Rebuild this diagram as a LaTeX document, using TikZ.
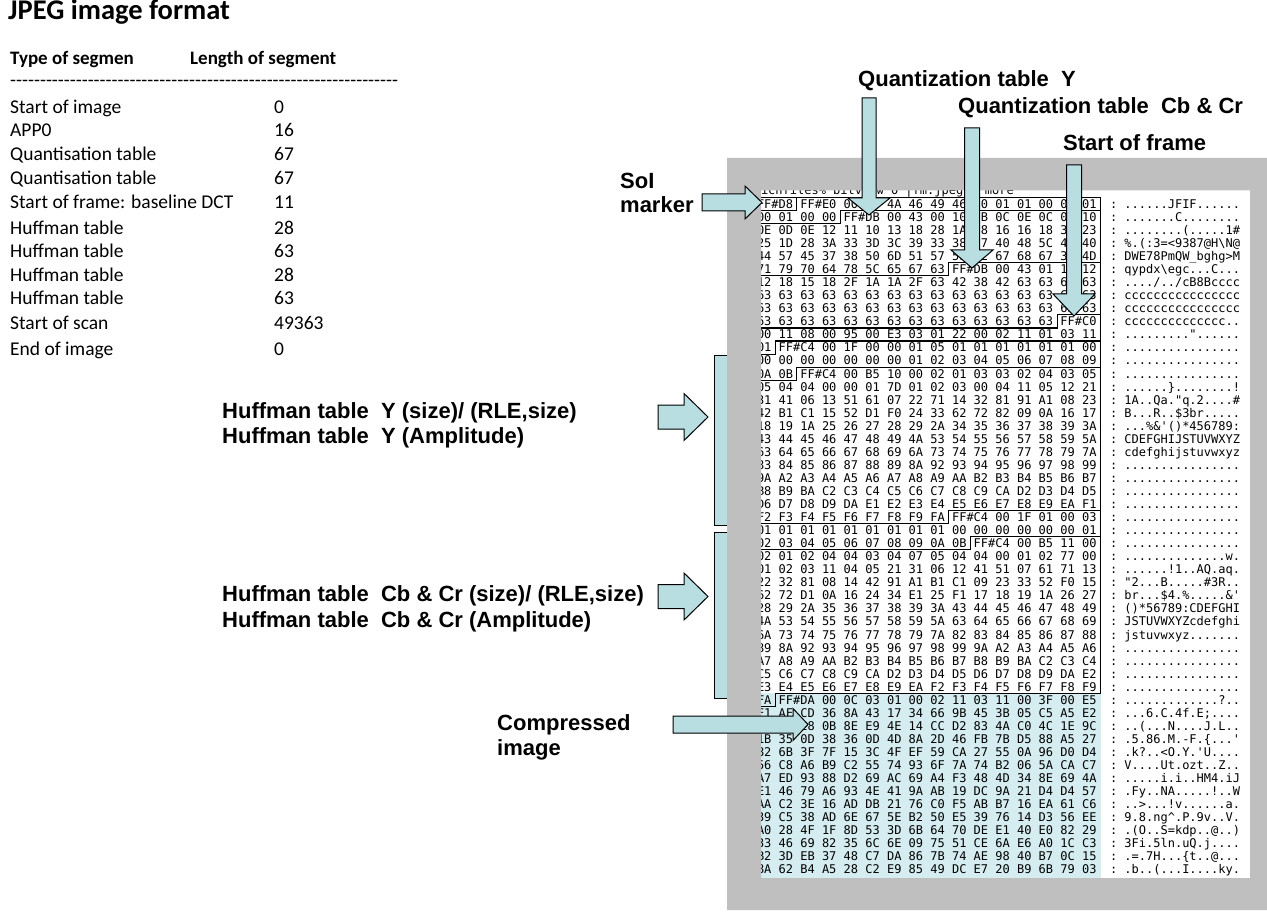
\documentclass[tikz,border=0pt]{standalone}
\usepackage{fontspec}
\setmainfont{Carlito}
\newfontfamily\labfont{Liberation Sans}
\newfontfamily\hexfnt{DejaVu Sans Mono}
\definecolor{arrowfill}{RGB}{184,222,226}
\definecolor{comprfill}{RGB}{213,237,240}
\definecolor{framegray}{RGB}{191,191,191}
\tikzset{
  hexnode/.style={anchor=base west, inner sep=0pt, outer sep=0pt, font=\hexfnt\fontsize{12}{12}\selectfont},
  segline/.style={draw=black, line width=1.1pt, line join=miter},
  arrowstyle/.style={fill=arrowfill, draw=black, line width=1pt, line join=miter},
  lab/.style={anchor=base west, inner sep=0pt, font=\labfont\bfseries\fontsize{22}{26}\selectfont},
  tabtext/.style={anchor=base west, inner sep=0pt, font=\fontsize{19.5}{22}\selectfont},
  tabhead/.style={anchor=base west, inner sep=0pt, font=\bfseries\fontsize{19}{22}\selectfont}
}
\newcommand{\hexrow}[3]{%
  \node[hexnode] (h#1) at (757,{204+(#1-1)*13.05+4.37}) {#2};
  \node[hexnode] (a#1) at (1110,{204+(#1-1)*13.05+4.37}) {:\ #3};
}
\newcommand{\segdiv}[2]{%
  \draw[segline] (740,{204+(#1-1)*13.05+6.525}) -- ({753.4+21.7*#2},{204+(#1-1)*13.05+6.525})
    -- ({753.4+21.7*#2},{204+(#1-1)*13.05-6.525}) -- (1100.6,{204+(#1-1)*13.05-6.525});
}
% cx, ytop, ybase, ytip, shaft half, head half
\newcommand{\downblock}[6]{%
  \filldraw[arrowstyle] ({#1-#5},#2) -- ({#1+#5},#2) -- ({#1+#5},#3) -- ({#1+#6},#3) -- (#1,#4)
    -- ({#1-#6},#3) -- ({#1-#5},#3) -- cycle;
}
% xleft, yc, xbase, xtip, shaft half, head half
\newcommand{\rightblock}[6]{%
  \filldraw[arrowstyle] (#1,{#2-#5}) -- (#3,{#2-#5}) -- (#3,{#2-#6}) -- (#4,#2) -- (#3,{#2+#6})
    -- (#3,{#2+#5}) -- (#1,{#2+#5}) -- cycle;
}
\newcommand{\tenhy}{-{}-{}-{}-{}-{}-{}-{}-{}-{}-{}}
\begin{document}
\begin{tikzpicture}[x=1pt,y=-1pt]
\useasboundingbox (0,0) rectangle (1267,912);
\fill[white] (0,0) rectangle (1267,912);

% ---------------- left table ----------------
\node[anchor=base west, inner sep=0pt, font=\bfseries\fontsize{28.5}{30}\selectfont] (title) at (8,19.5) {JPEG image format};
\node[tabhead] (hd1) at (10,65) {Type of segmen};
\node[tabhead] (hd2) at (190,65) {Length of segment};
\node[tabtext] (dash) at (10,86.5) {\tenhy\tenhy\tenhy\tenhy\tenhy\tenhy-{}-{}-{}-{}-{}};
\node[tabtext] (r1) at (10,113.3) {Start of image};            \node[tabtext] (v1) at (274,113.3) {0};
\node[tabtext] (r2) at (10,136.7) {APP0};                      \node[tabtext] (v2) at (274,136.7) {16};
\node[tabtext] (r3) at (10,160.7) {Quantisation table};        \node[tabtext] (v3) at (274,160.7) {67};
\node[tabtext] (r4) at (10,184.3) {Quantisation table};        \node[tabtext] (v4) at (274,184.3) {67};
\node[tabtext] (r5) at (10,208.3) {Start of frame: baseline DCT}; \node[tabtext] (v5) at (274,208.3) {11};
\node[tabtext] (r6) at (10,234.3) {Huffman table};             \node[tabtext] (v6) at (274,234.3) {28};
\node[tabtext] (r7) at (10,257.3) {Huffman table};             \node[tabtext] (v7) at (274,257.3) {63};
\node[tabtext] (r8) at (10,281.7) {Huffman table};             \node[tabtext] (v8) at (274,281.7) {28};
\node[tabtext] (r9) at (10,305) {Huffman table};               \node[tabtext] (v9) at (274,305) {63};
\node[tabtext] (r10) at (10,329.3) {Start of scan};            \node[tabtext] (v10) at (274,329.3) {49363};
\node[tabtext] (r11) at (10,355.3) {End of image};             \node[tabtext] (v11) at (274,355.3) {0};

% ---------------- compressed data background ----------------
\fill[comprfill] (745,693.4) rectangle (1100.6,880);

% ---------------- hex dump ----------------
\node[hexnode] (h0) at (761,194.3) {ichfiles\% bitview 0 |fm.jpeg | more};
\hexrow{1}{FF\#D8 FF\#E0 00 10 4A 46 49 46 00 01 01 00 00 01}{......JFIF......}
\hexrow{2}{00 01 00 00 FF\#DB 00 43 00 10 0B 0C 0E 0C 0A 10}{.......C........}
\hexrow{3}{0E 0D 0E 12 11 10 13 18 28 1A 18 16 16 18 31 23}{........(.....1\#}
\hexrow{4}{25 1D 28 3A 33 3D 3C 39 33 38 37 40 48 5C 4E 40}{\%.(:3=<9387@H\textbackslash N@}
\hexrow{5}{44 57 45 37 38 50 6D 51 57 5F 62 67 68 67 3E 4D}{DWE78PmQW\_bghg>M}
\hexrow{6}{71 79 70 64 78 5C 65 67 63 FF\#DB 00 43 01 11 12}{qypdx\textbackslash egc...C...}
\hexrow{7}{12 18 15 18 2F 1A 1A 2F 63 42 38 42 63 63 63 63}{..../../cB8Bcccc}
\hexrow{8}{63 63 63 63 63 63 63 63 63 63 63 63 63 63 63 63}{cccccccccccccccc}
\hexrow{9}{63 63 63 63 63 63 63 63 63 63 63 63 63 63 63 63}{cccccccccccccccc}
\hexrow{10}{63 63 63 63 63 63 63 63 63 63 63 63 63 63 FF\#C0}{cccccccccccccc..}
\hexrow{11}{00 11 08 00 95 00 E3 03 01 22 00 02 11 01 03 11}{........."......}
\hexrow{12}{01 FF\#C4 00 1F 00 00 01 05 01 01 01 01 01 01 00}{................}
\hexrow{13}{00 00 00 00 00 00 00 01 02 03 04 05 06 07 08 09}{................}
\hexrow{14}{0A 0B FF\#C4 00 B5 10 00 02 01 03 03 02 04 03 05}{................}
\hexrow{15}{05 04 04 00 00 01 7D 01 02 03 00 04 11 05 12 21}{......\}........!}
\hexrow{16}{31 41 06 13 51 61 07 22 71 14 32 81 91 A1 08 23}{1A..Qa."q.2....\#}
\hexrow{17}{42 B1 C1 15 52 D1 F0 24 33 62 72 82 09 0A 16 17}{B...R..\$3br.....}
\hexrow{18}{18 19 1A 25 26 27 28 29 2A 34 35 36 37 38 39 3A}{...\%\&'()*456789:}
\hexrow{19}{43 44 45 46 47 48 49 4A 53 54 55 56 57 58 59 5A}{CDEFGHIJSTUVWXYZ}
\hexrow{20}{63 64 65 66 67 68 69 6A 73 74 75 76 77 78 79 7A}{cdefghijstuvwxyz}
\hexrow{21}{83 84 85 86 87 88 89 8A 92 93 94 95 96 97 98 99}{................}
\hexrow{22}{9A A2 A3 A4 A5 A6 A7 A8 A9 AA B2 B3 B4 B5 B6 B7}{................}
\hexrow{23}{B8 B9 BA C2 C3 C4 C5 C6 C7 C8 C9 CA D2 D3 D4 D5}{................}
\hexrow{24}{D6 D7 D8 D9 DA E1 E2 E3 E4 E5 E6 E7 E8 E9 EA F1}{................}
\hexrow{25}{F2 F3 F4 F5 F6 F7 F8 F9 FA FF\#C4 00 1F 01 00 03}{................}
\hexrow{26}{01 01 01 01 01 01 01 01 01 00 00 00 00 00 00 01}{................}
\hexrow{27}{02 03 04 05 06 07 08 09 0A 0B FF\#C4 00 B5 11 00}{................}
\hexrow{28}{02 01 02 04 04 03 04 07 05 04 04 00 01 02 77 00}{..............w.}
\hexrow{29}{01 02 03 11 04 05 21 31 06 12 41 51 07 61 71 13}{......!1..AQ.aq.}
\hexrow{30}{22 32 81 08 14 42 91 A1 B1 C1 09 23 33 52 F0 15}{"2...B.....\#3R..}
\hexrow{31}{62 72 D1 0A 16 24 34 E1 25 F1 17 18 19 1A 26 27}{br...\$4.\%.....\&'}
\hexrow{32}{28 29 2A 35 36 37 38 39 3A 43 44 45 46 47 48 49}{()*56789:CDEFGHI}
\hexrow{33}{4A 53 54 55 56 57 58 59 5A 63 64 65 66 67 68 69}{JSTUVWXYZcdefghi}
\hexrow{34}{6A 73 74 75 76 77 78 79 7A 82 83 84 85 86 87 88}{jstuvwxyz.......}
\hexrow{35}{89 8A 92 93 94 95 96 97 98 99 9A A2 A3 A4 A5 A6}{................}
\hexrow{36}{A7 A8 A9 AA B2 B3 B4 B5 B6 B7 B8 B9 BA C2 C3 C4}{................}
\hexrow{37}{C5 C6 C7 C8 C9 CA D2 D3 D4 D5 D6 D7 D8 D9 DA E2}{................}
\hexrow{38}{E3 E4 E5 E6 E7 E8 E9 EA F2 F3 F4 F5 F6 F7 F8 F9}{................}
\hexrow{39}{FA FF\#DA 00 0C 03 01 00 02 11 03 11 00 3F 00 E5}{.............?..}
\hexrow{40}{E1 AF CD 36 8A 43 17 34 66 9B 45 3B 05 C5 A5 E2}{...6.C.4f.E;....}
\hexrow{41}{C1 A6 28 0B 8E E9 4E 14 CC D2 83 4A C0 4C 1E 9C}{..(...N....J.L..}
\hexrow{42}{1B 35 0D 38 36 0D 4D 8A 2D 46 FB 7B D5 88 A5 27}{.5.86.M.-F.\{...'}
\hexrow{43}{82 6B 3F 7F 15 3C 4F EF 59 CA 27 55 0A 96 D0 D4}{.k?..<O.Y.'U....}
\hexrow{44}{56 C8 A6 B9 C2 55 74 93 6F 7A 74 B2 06 5A CA C7}{V....Ut.ozt..Z..}
\hexrow{45}{A7 ED 93 88 D2 69 AC 69 A4 F3 48 4D 34 8E 69 4A}{.....i.i..HM4.iJ}
\hexrow{46}{E1 46 79 A6 93 4E 41 9A AB 19 DC 9A 21 D4 D4 57}{.Fy..NA.....!..W}
\hexrow{47}{AA C2 3E 16 AD DB 21 76 C0 F5 AB B7 16 EA 61 C6}{..>...!v......a.}
\hexrow{48}{39 C5 38 AD 6E 67 5E B2 50 E5 39 76 14 D3 56 EE}{9.8.ng\textasciicircum.P.9v..V.}
\hexrow{49}{A0 28 4F 1F 8D 53 3D 6B 64 70 DE E1 40 E0 82 29}{.(O..S=kdp..@..)}
\hexrow{50}{33 46 69 82 35 6C 6E 09 75 51 CE 6A E6 A0 1C C3}{3Fi.5ln.uQ.j....}
\hexrow{51}{B2 3D EB 37 48 C7 DA 86 7B 74 AE 98 40 B7 0C 15}{.=.7H...\{t..@...}
\hexrow{52}{8A 62 B4 A5 28 C2 E9 85 49 DC E7 20 B9 6B 79 03}{.b..(...I....ky.}

% ---------------- segment outlines ----------------
\draw[segline] (740,197.475) -- (1100.6,197.475);
\draw[segline, line width=1.6pt] (1100.6,197.475) -- (1100.6,693.4);
\segdiv{1}{2}
\segdiv{2}{4}
\segdiv{6}{9}
\segdiv{10}{14}
\segdiv{12}{1}
\segdiv{14}{2}
\segdiv{25}{9}
\segdiv{27}{10}
\segdiv{39}{1}

% ---------------- brackets ----------------
\filldraw[arrowstyle] (714,355) rectangle (745,525);
\filldraw[arrowstyle] (714,532) rectangle (745,698);

% ---------------- grey frame ----------------
\fill[framegray, even odd rule] (727,158) rectangle (1267,910) (761,190.5) rectangle (1250,878);

% ---------------- block arrows ----------------
\downblock{869}{98}{198}{215}{7}{21}
\downblock{972}{128}{250}{268}{7.5}{21}
\downblock{1074}{165}{294}{316}{7.5}{21}
\rightblock{702}{202.5}{745}{762}{8.5}{16.5}
\rightblock{658}{417}{684}{708}{12}{23.5}
\rightblock{658}{596.5}{684}{708}{12}{23.5}
\rightblock{673}{724.5}{793}{808}{8.5}{16}

% ---------------- labels ----------------
\node[lab] (lqy) at (858,87) {Quantization table\ \ Y};
\node[lab] (lqc) at (958,114) {Quantization table\ \ Cb \& Cr};
\node[lab] (lsof) at (1063,151) {Start of frame};
\node[lab] (lsoi) at (620,189) {SoI};
\node[lab] (lmark) at (620,213) {marker};
\node[lab] (lh1) at (222,418) {Huffman table\ \ Y (size)/ (RLE,size)};
\node[lab] (lh2) at (222,443) {Huffman table\ \ Y (Amplitude)};
\node[lab] (lh3) at (222,601) {Huffman table\ \ Cb \& Cr (size)/ (RLE,size)};
\node[lab] (lh4) at (222,627) {Huffman table\ \ Cb \& Cr (Amplitude)};
\node[lab] (lci) at (497,730) {Compressed};
\node[lab] (lim) at (497,755) {image};
\end{tikzpicture}
\end{document}
